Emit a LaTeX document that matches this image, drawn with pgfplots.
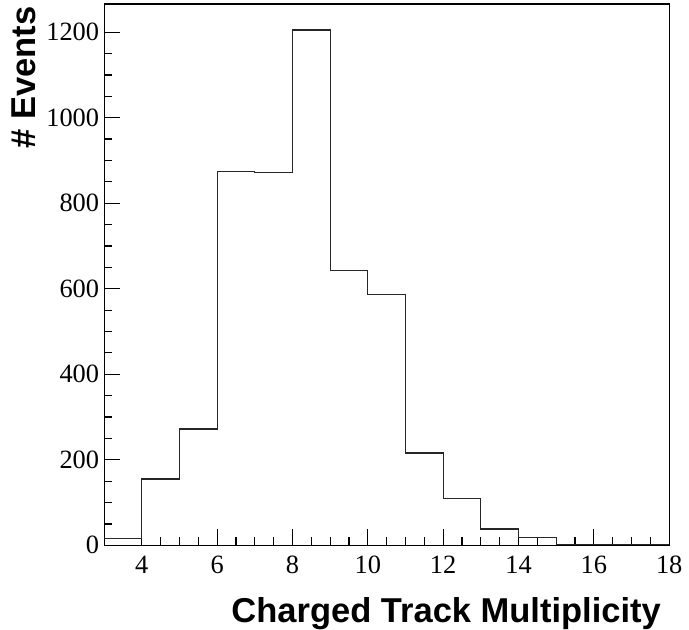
\documentclass[border=0pt]{standalone}
\usepackage{fontspec}
\setmainfont{Liberation Serif}
\newfontfamily\labelfont{Liberation Sans}
\usepackage{pgfplots}
\pgfplotsset{compat=1.18}

\begin{document}
\begin{tikzpicture}
\begin{axis}[
  scale only axis, width=285pt, height=273pt,
  xmin=3, xmax=18, ymin=0, ymax=1266,
  xtick={4,6,...,18}, ytick={0,200,...,1200},
  minor x tick num=3, minor y tick num=3,
  xtick pos=left, ytick pos=left,
  tick align=inside,
  major tick length=8pt, minor tick length=4pt,
  axis line style={line width=0.6pt},
  every tick/.style={black, line width=0.6pt},
  tick label style={font=\fontsize{13.3}{15}\selectfont},
  /pgf/number format/assume math mode=true,
  /pgf/number format/1000 sep={},
  yticklabel style={xshift=1pt},
  xticklabel style={yshift=-2pt},
  xlabel={\labelfont\bfseries\fontsize{17.4}{20}\selectfont Charged Track Multiplicity},
  ylabel={\labelfont\bfseries\fontsize{17.4}{20}\selectfont \# Events},
  xlabel style={at={(axis description cs:1,0)}, anchor=north east, inner sep=0pt, xshift=-4pt, yshift=-26pt},
  ylabel style={at={(axis description cs:0,1)}, anchor=south east, inner sep=0pt, yshift=34pt, xshift=-1pt},
]
\addplot[const plot mark left, black!85, line width=0.6pt] coordinates {
  (3,15) (4,155) (5,272) (6,875) (7,872) (8,1205) (9,643) (10,586)
  (11,216) (12,110) (13,38) (14,19) (15,2) (16,2) (17,1) (18,1)};
\addplot[black!85, line width=0.6pt] coordinates {(18,1) (18,0)};
\end{axis}
\path (current axis.south west) ++(-52.5pt,-39pt);
\path (current axis.north east) ++(7pt,2pt);
\end{tikzpicture}
\end{document}
